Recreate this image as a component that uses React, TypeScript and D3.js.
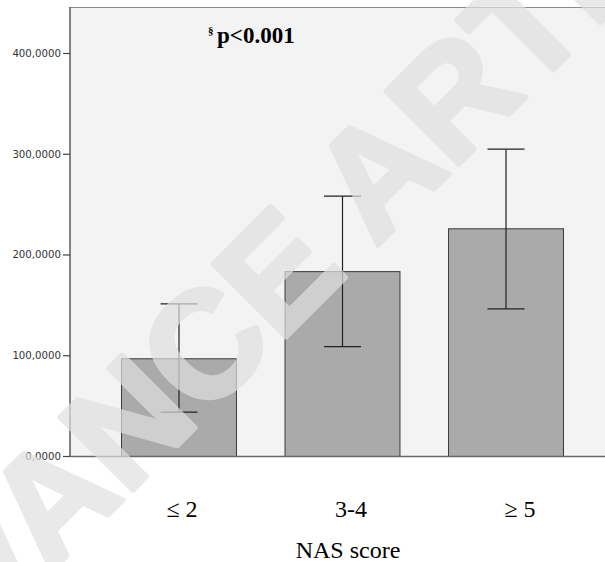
import React, { useEffect, useRef } from 'react';
import * as d3 from 'd3';

const categories = ['le2', '3-4', 'ge5'];
const categoryLabels = ['\u2264 2', '3-4', '\u2265 5'];
const means = [97, 183.5, 226];
const lower = [43.5, 108.5, 146];
const upper = [151, 258, 304.5];
const yTicks = [0, 100, 200, 300, 400];

const App = () => {
  const svgRef = useRef<SVGSVGElement>(null);

  useEffect(() => {
    const width = 605, height = 562;
    const left = 70, top = 7, bottom = 456;

    const svg = d3.select(svgRef.current);
    svg.selectAll('*').remove();
    svg.attr('width', width).attr('height', height);

    const y = d3.scaleLinear().domain([0, 400]).range([bottom, 53]);
    const x = d3.scaleBand<string>()
      .domain(categories)
      .range([left, 614])
      .paddingInner(0.297)
      .paddingOuter(0.312);
    // the printed category labels sit a bit off the bar centres
    const xLabel = d3.scalePoint<string>().domain(categories).range([182, 520]);

    svg.append('rect')
      .attr('x', left).attr('y', top)
      .attr('width', width - left).attr('height', bottom - top)
      .attr('fill', '#f3f3f3');

    const rows = categories.map((c, i) => ({ c, mean: means[i], lo: lower[i], hi: upper[i] }));

    svg.append('g')
      .selectAll('rect')
      .data(rows)
      .join('rect')
      .attr('x', d => x(d.c)! + 0.5)
      .attr('y', d => y(d.mean) + 0.5)
      .attr('width', x.bandwidth())
      .attr('height', d => bottom - y(d.mean))
      .attr('fill', '#aaaaaa')
      .attr('stroke', '#3a3a3a')
      .attr('stroke-width', 1);

    const eb = svg.append('g').attr('stroke', '#222').attr('stroke-width', 1.2);
    const cap = 18.5;
    rows.forEach(d => {
      const cx = x(d.c)! + x.bandwidth() / 2 + 0.5;
      eb.append('line').attr('x1', cx).attr('x2', cx).attr('y1', y(d.hi)).attr('y2', y(d.lo));
      eb.append('line').attr('x1', cx - cap).attr('x2', cx + cap).attr('y1', y(d.hi)).attr('y2', y(d.hi));
      eb.append('line').attr('x1', cx - cap).attr('x2', cx + cap).attr('y1', y(d.lo)).attr('y2', y(d.lo));
    });

    // frame
    svg.append('line').attr('x1', left).attr('x2', width).attr('y1', top + 0.5).attr('y2', top + 0.5)
      .attr('stroke', '#8a8a8a').attr('stroke-width', 1);
    svg.append('line').attr('x1', left).attr('x2', width).attr('y1', bottom + 0.5).attr('y2', bottom + 0.5)
      .attr('stroke', '#6a6a6a').attr('stroke-width', 1.5);

    const yAxis = svg.append('g')
      .attr('transform', `translate(${left},0)`)
      .call(d3.axisLeft(y).tickValues(yTicks).tickSize(7).tickPadding(2)
        .tickFormat(d => d3.format('.4f')(d as number).replace('.', ',')));
    yAxis.select('.domain').attr('d', `M0,${top}V${bottom}`).attr('stroke', '#5a5a5a').attr('stroke-width', 1.5);
    yAxis.selectAll('.tick line').attr('stroke', '#444').attr('stroke-width', 1.2);
    yAxis.selectAll('.tick text')
      .attr('font-family', 'DejaVu Sans, sans-serif')
      .attr('font-size', 10.2)
      .attr('fill', '#333');

    svg.append('text')
      .attr('x', 208).attr('y', 34)
      .attr('font-family', 'Liberation Serif, Times New Roman, serif')
      .attr('font-weight', 'bold')
      .attr('font-size', 11)
      .attr('fill', '#000')
      .text('\u00a7');
    svg.append('text')
      .attr('x', 217).attr('y', 43)
      .attr('font-family', 'Liberation Serif, Times New Roman, serif')
      .attr('font-weight', 'bold')
      .attr('font-size', 23)
      .attr('fill', '#000')
      .text('p<0.001');

    svg.append('g')
      .selectAll('text')
      .data(categories)
      .join('text')
      .attr('x', d => xLabel(d)!)
      .attr('y', 517)
      .attr('text-anchor', 'middle')
      .attr('font-family', 'Liberation Serif, Times New Roman, serif')
      .attr('font-size', 24)
      .attr('fill', '#000')
      .text((d, i) => categoryLabels[i]);

    svg.append('text')
      .attr('x', 348).attr('y', 558)
      .attr('text-anchor', 'middle')
      .attr('font-family', 'Liberation Serif, Times New Roman, serif')
      .attr('font-size', 24)
      .attr('fill', '#000')
      .text('NAS score');

    // watermark
    svg.append('g')
      .attr('opacity', 0.7)
      .append('text')
      .attr('transform', 'translate(334,289) rotate(-45)')
      .attr('text-anchor', 'middle')
      .attr('font-family', 'Liberation Sans, Arial, sans-serif')
      .attr('font-weight', 'bold')
      .attr('font-size', 150)
      .attr('fill', '#e0e0e0')
      .attr('stroke', '#e0e0e0')
      .attr('stroke-width', 5)
      .attr('stroke-linejoin', 'round')
      .text('ADVANCE ARTICLE');
  }, []);

  return <svg ref={svgRef} style={{ position: 'absolute', left: 0, top: 0 }}></svg>;
};

export default App;
